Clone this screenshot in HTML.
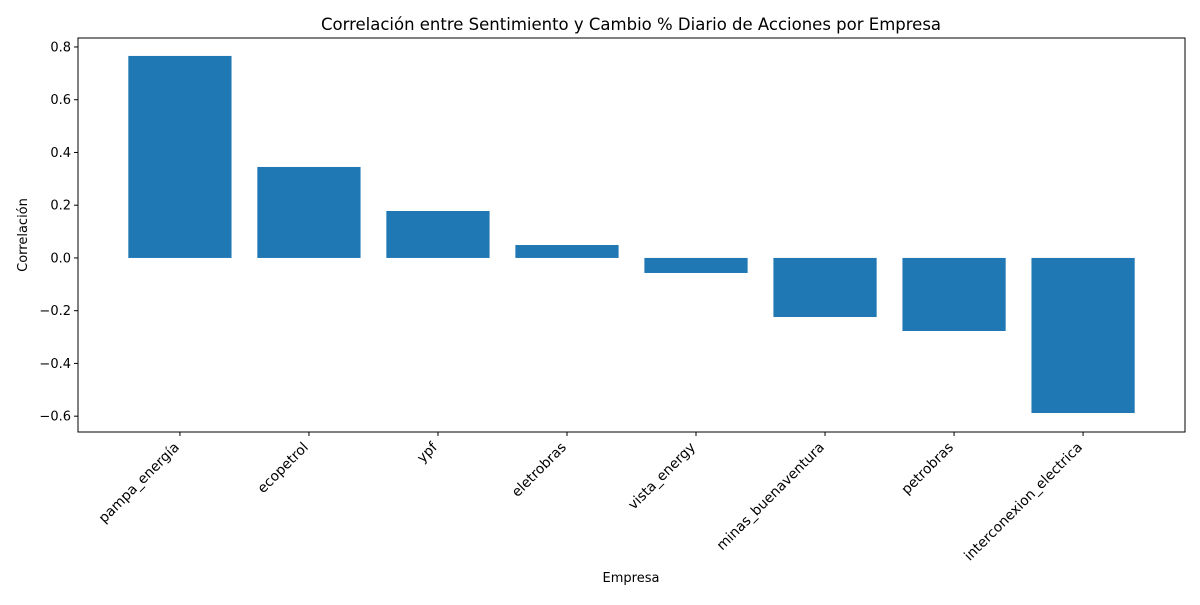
<!DOCTYPE html>
<html><head><meta charset="utf-8"><style>
body{margin:0;background:#fff;font-family:"Liberation Sans","DejaVu Sans",sans-serif}
</style></head><body>
<svg id="chart" width="1200" height="600" xmlns="http://www.w3.org/2000/svg" font-family="DejaVu Sans, Liberation Sans, sans-serif">
<rect width="1200" height="600" fill="#fff"/>
<text x="631" y="30" text-anchor="middle" font-size="16.5" fill="#000">Correlación entre Sentimiento y Cambio % Diario de Acciones por Empresa</text>
<g id="bars"></g>
<g id="yticks"></g>
<g id="xticks"></g>
<rect x="78" y="38" width="1107" height="394" fill="none" stroke="#000" stroke-width="1"/>
<text x="631" y="582" text-anchor="middle" font-size="13">Empresa</text>
<text transform="translate(27,235) rotate(-90)" text-anchor="middle" font-size="13">Correlación</text>
</svg>
<script>
const categories=["pampa_energía","ecopetrol","ypf","eletrobras","vista_energy","minas_buenaventura","petrobras","interconexion_electrica"];
const values=[0.766,0.345,0.178,0.049,-0.057,-0.224,-0.277,-0.588];
const yTicks=[-0.6,-0.4,-0.2,0.0,0.2,0.4,0.6,0.8];
const NS="http://www.w3.org/2000/svg";
const L=78,R=1185,T=38,B=432;
const yMin=-0.66,yMax=0.834;
const xMin=-0.79,xMax=7.79;
function y(v){return B-(v-yMin)/(yMax-yMin)*(B-T);}
function x(i){return L+(i-xMin)/(xMax-xMin)*(R-L);}
const bw=0.8*(R-L)/(xMax-xMin);
const gb=document.getElementById('bars'),gy=document.getElementById('yticks'),gx=document.getElementById('xticks');
function mk(t,a){const e=document.createElementNS(NS,t);for(const k in a)e.setAttribute(k,a[k]);return e;}
values.forEach((v,i)=>{
 const r=mk('rect',{x:x(i)-bw/2,y:Math.min(y(v),y(0)),width:bw,height:Math.abs(y(v)-y(0)),fill:'#1f77b4'});
 
 
 gb.appendChild(r);
 const tk=mk('line',{x1:x(i),x2:x(i),y1:B,y2:B+4,stroke:'#000'});
 
 
 gx.appendChild(tk);
 const tx=mk('text',{transform:`translate(${x(i)},${B+16}) rotate(-45)`,'text-anchor':'end','font-size':'13.8'});
 tx.textContent=categories[i];
 
 
 gx.appendChild(tx);
});
yTicks.forEach(v=>{
 const tk=mk('line',{x1:L-4,x2:L,y1:y(v),y2:y(v),stroke:'#000'});
 
 
 gy.appendChild(tk);
 const tx=mk('text',{x:L-7,y:y(v)+4.5,'text-anchor':'end','font-size':'13'});
 tx.textContent=(v<0?'\u2212':'')+Math.abs(v).toFixed(1);
 
 
 gy.appendChild(tx);
});
</script>
</body></html>
